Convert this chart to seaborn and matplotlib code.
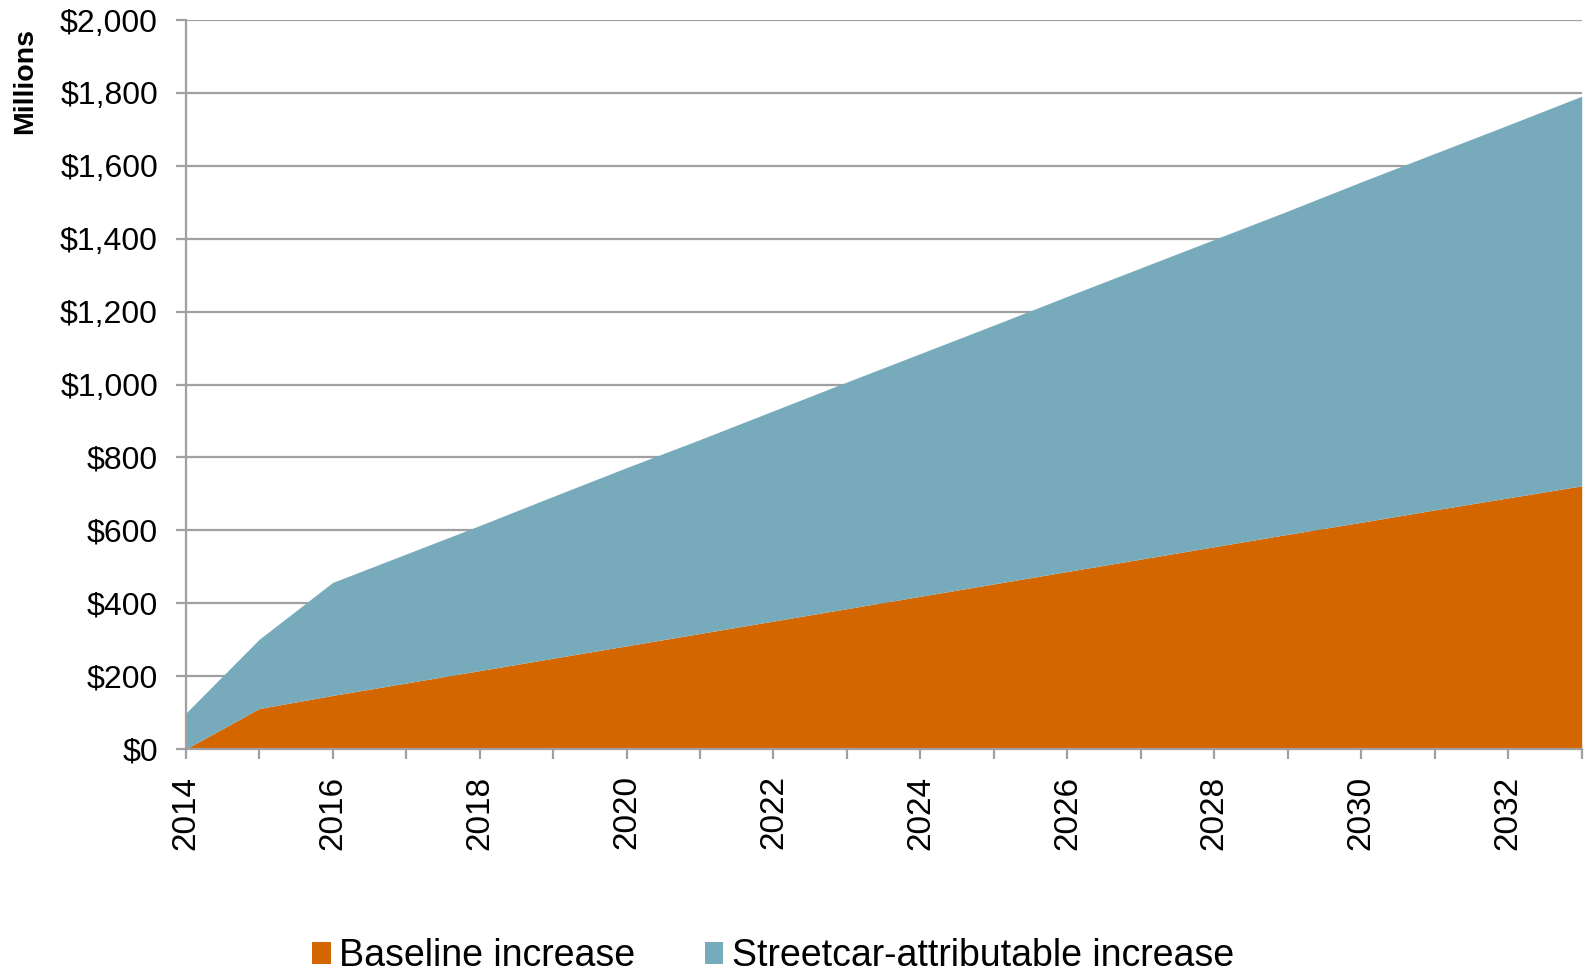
import numpy as np
import pandas as pd
import matplotlib
matplotlib.use("Agg")
import matplotlib.pyplot as plt
import seaborn as sns
from matplotlib.patches import Patch
from matplotlib.ticker import FuncFormatter

years = list(range(2014, 2034))
baseline = [0, 111, 147, 181, 215, 249, 283, 317, 351, 385,
            419, 453, 487, 521, 555, 589, 622, 656, 689, 722]
streetcar = [98, 190, 310, 354, 398, 444, 489, 532, 577, 622,
             666, 710, 755, 799, 843, 887, 934, 978, 1023, 1069]
series_names = ["Baseline increase", "Streetcar-attributable increase"]
colors = ["#D46600", "#77ABBC"]
y_ticks = list(range(0, 2001, 200))

df = pd.DataFrame({"year": years, series_names[0]: baseline, series_names[1]: streetcar})

sns.set_theme(style="white")
plt.rcParams["font.family"] = ["Liberation Sans", "DejaVu Sans"]
plt.rcParams["text.color"] = "black"

fig = plt.figure(figsize=(15.87, 9.76), dpi=100)
ax = fig.add_axes([185.7 / 1587, 1 - 749 / 976, 1396 / 1587, 729 / 976])

ax.stackplot(df["year"], df[series_names[0]], df[series_names[1]],
             colors=colors, linewidth=0, zorder=3)

ax.set_xlim(2014, 2033)
ax.set_ylim(0, 2000)
ax.set_yticks(y_ticks)
ax.yaxis.set_major_formatter(FuncFormatter(lambda v, p: f"${int(v):,}"))
ax.set_xticks(years)
ax.set_xticklabels([str(y) if y % 2 == 0 else "" for y in years], rotation=90)

grid_color = "#A0A0A0"
ax.grid(axis="y", color=grid_color, linewidth=1.6, zorder=1)
ax.grid(axis="x", visible=False)
for s in ["top", "right"]:
    ax.spines[s].set_visible(False)
for s in ["left", "bottom"]:
    ax.spines[s].set_color(grid_color)
    ax.spines[s].set_linewidth(1.6)
    ax.spines[s].set_zorder(4)

ax.tick_params(axis="both", which="major", length=7, width=1.6, color=grid_color,
               labelcolor="black")
ax.tick_params(axis="y", pad=13, left=True, labelsize=23)
ax.tick_params(axis="x", pad=12, bottom=True, labelsize=24)
ax.set_xlabel("")
ax.set_ylabel("")

fig.text(25 / 1587, 1 - 81 / 976, "Millions", rotation=90, ha="center", va="center",
         fontsize=20.5, fontweight="bold", color="black")

handles = [Patch(facecolor=c, edgecolor="none") for c in colors]
leg = fig.legend(handles, series_names, loc="center", bbox_to_anchor=(0.487, 0.02),
                 ncol=2, frameon=False, fontsize=27, handlelength=0.5, handleheight=0.5,
                 handletextpad=0.22, columnspacing=1.85, borderpad=0.2)
for t in leg.get_texts():
    t.set_color("black")

fig.savefig("out.png", dpi=100)
